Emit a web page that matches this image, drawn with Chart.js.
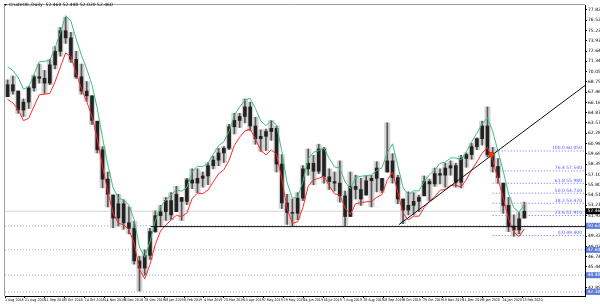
<!DOCTYPE html>
<html>
<head>
<meta charset="utf-8">
<script src="https://cdn.jsdelivr.net/npm/chart.js@4"></script>
<style>
html, body { margin: 0; padding: 0; background: #fff; }
canvas { display: block; }
</style>
</head>
<body>
<canvas id="chart" width="600" height="304"></canvas>
<script>
// daily candles, one entry for about four sessions (Aug 2018 - Feb 2020)
const lows = [66.9, 67.2, 64.8, 64.4, 65.4, 67.6, 68.6, 67.3, 68.4, 70.4,
    72.0, 73.6, 71.2, 69.2, 67.2, 66.3, 63.4, 59.8, 55.4, 53.0,
    50.4, 50.6, 50.2, 49.6, 45.8, 42.4, 44.4, 46.4, 49.8, 50.5,
    51.3, 51.4, 52.4, 51.3, 53.3, 55.3, 54.8, 55.5, 55.8, 57.8,
    58.2, 58.6, 60.2, 62.2, 63.0, 63.6, 62.6, 60.9, 60.0, 60.1,
    61.4, 57.4, 52.8, 50.8, 50.6, 51.4, 53.8, 57.0, 55.8, 57.2,
    56.0, 55.2, 55.0, 53.6, 50.6, 51.8, 54.0, 53.2, 54.5, 53.0,
    54.9, 54.8, 57.4, 56.0, 53.4, 50.9, 52.0, 52.0, 52.4, 54.4,
    53.8, 55.6, 55.9, 55.5, 57.0, 55.5, 55.4, 58.0, 59.0, 60.2,
    60.8, 59.3, 57.4, 56.0, 52.2, 49.9, 49.3, 49.6, 51.6]
const highs = [69.0, 69.5, 67.6, 66.6, 68.2, 69.6, 71.0, 70.2, 71.6, 73.2,
    75.6, 76.9, 75.0, 72.6, 71.0, 68.8, 67.0, 63.8, 60.6, 57.4,
    54.5, 54.6, 53.9, 53.0, 51.2, 46.8, 47.6, 50.3, 52.5, 53.2,
    54.2, 54.8, 55.6, 54.2, 56.6, 57.8, 57.8, 57.4, 58.6, 59.4,
    60.4, 60.6, 63.4, 64.8, 64.8, 66.6, 66.2, 64.3, 62.7, 62.8,
    63.9, 63.2, 59.6, 54.6, 54.0, 54.8, 58.2, 60.3, 59.5, 60.9,
    60.5, 57.8, 57.4, 58.8, 55.0, 57.4, 57.0, 56.6, 56.9, 57.0,
    58.7, 56.6, 63.6, 59.7, 57.0, 54.0, 54.9, 54.8, 54.5, 56.9,
    56.5, 57.9, 57.8, 58.5, 58.8, 58.5, 59.5, 59.8, 61.0, 61.7,
    63.8, 65.6, 60.5, 59.1, 56.0, 54.2, 52.0, 52.3, 53.6]
const closes = [68.4, 67.6, 65.2, 66.2, 68.0, 69.4, 69.2, 68.6, 70.9, 72.6,
    75.2, 74.3, 71.6, 69.4, 67.6, 67.0, 63.9, 60.2, 56.5, 54.6,
    51.6, 53.4, 51.0, 50.3, 46.2, 45.3, 46.9, 49.9, 51.9, 52.4,
    53.8, 52.0, 54.6, 53.7, 56.4, 56.0, 56.6, 56.9, 58.2, 58.9,
    59.8, 60.4, 63.1, 63.9, 64.4, 65.6, 63.2, 61.6, 61.9, 62.5,
    62.9, 58.4, 53.5, 52.3, 52.2, 54.1, 57.8, 58.5, 57.5, 60.3,
    56.8, 56.2, 56.0, 54.4, 51.8, 55.6, 55.2, 54.0, 56.3, 56.6,
    57.9, 55.1, 58.8, 56.7, 54.0, 52.6, 53.2, 53.7, 54.2, 56.2,
    55.9, 57.2, 57.0, 57.9, 58.2, 56.1, 59.1, 59.6, 60.6, 61.6,
    63.2, 59.6, 58.1, 56.7, 53.2, 50.6, 50.1, 51.5, 52.46]

// envelope lines
const upperBand = [70.66, 70.19, 69.30, 67.83, 68.13, 69.73, 71.28, 71.35, 71.46, 73.03,
    74.98, 77.10, 76.40, 74.16, 72.10, 70.38, 68.37, 65.41, 61.70, 58.30,
    55.44, 54.10, 53.90, 53.23, 51.40, 47.95, 46.66, 48.59, 51.24, 53.05,
    53.87, 54.51, 55.16, 54.98, 55.47, 57.42, 58.12, 58.07, 58.53, 59.64,
    60.72, 61.23, 62.52, 64.53, 65.61, 66.44, 66.69, 65.41, 63.84, 63.24,
    63.91, 63.32, 60.00, 56.08, 54.08, 54.28, 56.19, 59.05, 59.89, 60.10,
    60.41, 59.10, 58.04, 57.89, 56.14, 55.31, 56.70, 56.86, 56.96, 57.01,
    57.58, 57.94, 59.84, 60.95, 58.22, 55.44, 54.54, 55.03, 55.03, 56.19,
    57.06, 57.63, 58.50, 58.64, 59.17, 59.17, 58.95, 59.93, 61.23, 62.29,
    63.48, 64.25, 62.52, 60.00, 57.50, 54.67, 52.89, 52.32, 53.33]
const lowerBand = [66.54, 66.11, 65.26, 63.87, 64.17, 65.67, 67.12, 67.20, 67.30, 68.77,
    70.62, 72.40, 71.95, 69.84, 67.90, 66.28, 64.39, 61.60, 58.10, 54.90,
    52.21, 50.95, 50.76, 50.13, 48.40, 45.15, 43.94, 45.76, 48.26, 49.96,
    50.73, 51.34, 51.94, 51.78, 52.23, 54.08, 54.73, 54.68, 55.12, 56.16,
    57.18, 57.67, 58.88, 60.77, 61.79, 62.57, 62.81, 61.60, 60.12, 59.56,
    60.19, 59.64, 56.50, 52.82, 50.93, 51.12, 52.91, 55.61, 56.41, 56.60,
    56.89, 55.66, 54.66, 54.51, 52.87, 52.09, 53.40, 53.54, 53.64, 53.69,
    54.22, 54.56, 56.36, 57.40, 54.83, 52.21, 51.36, 51.83, 51.83, 52.91,
    53.74, 54.27, 55.10, 55.22, 55.73, 55.73, 55.51, 56.43, 57.67, 58.67,
    59.78, 60.51, 58.88, 56.50, 54.15, 51.49, 49.81, 49.28, 50.23]

const dateLabels = ['1 Aug 2018', '21 Aug 2018', '11 Sep 2018', '3 Oct 2018', '24 Oct 2018',
    '14 Nov 2018', '6 Dec 2018', '28 Dec 2018', '18 Jan 2019', '8 Feb 2019', '4 Mar 2019',
    '25 Mar 2019', '15 Apr 2019', '7 May 2019', '29 May 2019', '24 Jun 2019', '16 Jul 2019',
    '7 Aug 2019', '28 Aug 2019', '18 Sep 2019', '8 Oct 2019', '29 Oct 2019', '19 Nov 2019',
    '11 Dec 2019', '3 Jan 2020', '24 Jan 2020', '13 Feb 2020']
const priceTicks = [77.820, 76.525, 75.230, 73.935, 72.640, 71.345, 70.050, 68.755, 67.460,
    66.165, 64.870, 63.575, 62.280, 60.985, 59.690, 58.395, 57.100, 55.805, 54.510,
    53.215, 51.920, 50.625, 49.330, 48.035, 46.740, 45.445, 44.150, 42.855]

const fibNames = ['100.0', '76.4', '61.8', '50.0', '38.2', '23.6', '0.0']
const fibPrices = [60.05, 57.54, 55.98, 54.73, 53.47, 51.91, 49.40]
const levelPrices = [50.62, 47.60, 44.40, 42.30]
const supportPrice = 50.52
const trendStart = {x: 74.2, y: 50.76}
const trendEnd = {x: 109.5, y: 68.30}
const breakPoint = {x: 91.7, y: 59.6}
const lastPrice = 52.46
const chartTitle = 'CrudeOIL,Daily  52.460 52.480 52.020 52.460'

const X_MIN = -0.5
const X_MAX = 109.5
const TINY = {family: 'DejaVu Sans', size: 4.5}
const TINIER = {family: '"Liberation Sans Narrow", "DejaVu Sans Condensed", "DejaVu Sans"', size: 3.6}

function hLine(price, from, color, dash, order) {
    return {
        type: 'line',
        data: [{x: from, y: price}, {x: X_MAX, y: price}],
        borderColor: color,
        borderWidth: 1,
        borderDash: dash,
        pointRadius: 0,
        order: order
    }
}

function barSet(data, color, thickness, order) {
    return {
        type: 'bar',
        data: data,
        backgroundColor: color,
        barThickness: thickness,
        grouped: false,
        order: order
    }
}

function buildDatasets() {
    let sets = []
    let ranges = lows.map((lo, i) => ({x: i, y: [lo, highs[i]]}))
    // body runs from the previous close to this close
    let bodies = closes.map((c, i) => {
        let o = i > 0 ? closes[i - 1] : lows[0]
        o = Math.min(Math.max(o, lows[i]), highs[i])
        return {x: i, y: [o, c]}
    })
    sets.push(barSet(ranges, '#d2d2d2', 5.4, 7))
    sets.push(barSet(ranges, '#555', 1, 6))
    sets.push(barSet(bodies, '#222', 3, 5))
    sets.push({
        type: 'line',
        data: upperBand.map((v, i) => ({x: i, y: v})),
        borderColor: '#3fbf7f',
        borderWidth: 1,
        pointRadius: 0,
        order: 2
    })
    sets.push({
        type: 'line',
        data: lowerBand.map((v, i) => ({x: i, y: v})),
        borderColor: '#ff2a2a',
        borderWidth: 1,
        pointRadius: 0,
        order: 2
    })
    levelPrices.forEach((p) => sets.push(hLine(p, X_MIN, '#9aa6ee', [1, 2], 9)))
    fibPrices.forEach((p) => sets.push(hLine(p, 92, '#6b6bff', [1, 2], 8)))
    sets.push(hLine(lastPrice, X_MIN, '#d4d4d4', [], 10))
    sets.push(hLine(supportPrice, 27.1, '#111', [], 1))
    sets.push({
        type: 'line',
        data: [trendStart, trendEnd],
        borderColor: '#111',
        borderWidth: 1,
        pointRadius: 0,
        order: 0
    })
    sets.push({
        type: 'scatter',
        data: [breakPoint],
        backgroundColor: '#ff3d00',
        borderColor: '#d03000',
        pointStyle: 'rect',
        pointRadius: 3,
        order: -1
    })
    return sets
}

const overlay = {
    id: 'overlay',
    afterDraw(chart) {
        const ctx = chart.ctx
        const a = chart.chartArea
        const y = chart.scales.y
        ctx.save()
        // frame
        ctx.strokeStyle = '#a0a0a0'
        ctx.lineWidth = 1
        ctx.beginPath()
        ctx.moveTo(a.left - 0.5, a.bottom)
        ctx.lineTo(a.left - 0.5, a.top - 0.5)
        ctx.lineTo(a.right, a.top - 0.5)
        ctx.stroke()

        // title
        ctx.fillStyle = '#000'
        ctx.font = '4.5px "DejaVu Sans"'
        ctx.textBaseline = 'middle'
        ctx.beginPath()
        ctx.moveTo(4, 4)
        ctx.lineTo(7, 4)
        ctx.lineTo(5.5, 6)
        ctx.closePath()
        ctx.fill()
        ctx.fillText(chartTitle, 9, 5)

        // fibo labels
        ctx.fillStyle = '#5a5aff'
        ctx.textAlign = 'right'
        ctx.textBaseline = 'bottom'
        fibPrices.forEach((p, i) => {
            ctx.fillText(fibNames[i] + ' ' + p.toFixed(3), a.right - 3, y.getPixelForValue(p) - 0.5)
        })

        // axis boxes
        ctx.textAlign = 'left'
        ctx.textBaseline = 'middle'
        levelPrices.forEach((p) => {
            const py = y.getPixelForValue(p)
            ctx.fillStyle = '#5b7ad8'
            ctx.fillRect(a.right + 1, py - 3, 14, 6)
            ctx.fillStyle = '#fff'
            ctx.fillText(p.toFixed(3), a.right + 2.5, py)
        })
        const lp = y.getPixelForValue(lastPrice)
        ctx.fillStyle = '#000'
        ctx.fillRect(a.right + 1, lp - 3, 14, 6)
        ctx.fillStyle = '#fff'
        ctx.fillText(lastPrice.toFixed(3), a.right + 2.5, lp)
        ctx.restore()
    }
}

new Chart(document.getElementById('chart'), {
    type: 'bar',
    data: {datasets: buildDatasets()},
    options: {
        responsive: false,
        animation: false,
        layout: {padding: {left: 2, top: 2, right: 0, bottom: 0}},
        plugins: {legend: {display: false}, tooltip: {enabled: false}},
        scales: {
            x: {
                type: 'linear',
                min: X_MIN,
                max: X_MAX,
                offset: false,
                afterBuildTicks: (s) => { s.ticks = dateLabels.map((d, k) => ({value: k * 3.774 + X_MIN})) },
                afterFit: (s) => { s.height = 8 },
                ticks: {
                    autoSkip: false, maxRotation: 0, align: 'start', padding: 0,
                    font: TINIER, color: '#000',
                    callback: (v, i) => dateLabels[i]
                },
                grid: {drawOnChartArea: false, tickLength: 2, color: '#000', offset: false},
                border: {color: '#000'}
            },
            y: {
                position: 'right',
                min: 41.78,
                max: 78.44,
                afterBuildTicks: (s) => { s.ticks = priceTicks.map((v) => ({value: v})) },
                afterFit: (s) => { s.width = 15 },
                ticks: {font: TINY, color: '#000', padding: 1, callback: (v) => v.toFixed(3)},
                grid: {drawOnChartArea: false, tickLength: 2, color: '#000'},
                border: {color: '#000'}
            }
        }
    },
    plugins: [overlay]
})
</script>
</body>
</html>
